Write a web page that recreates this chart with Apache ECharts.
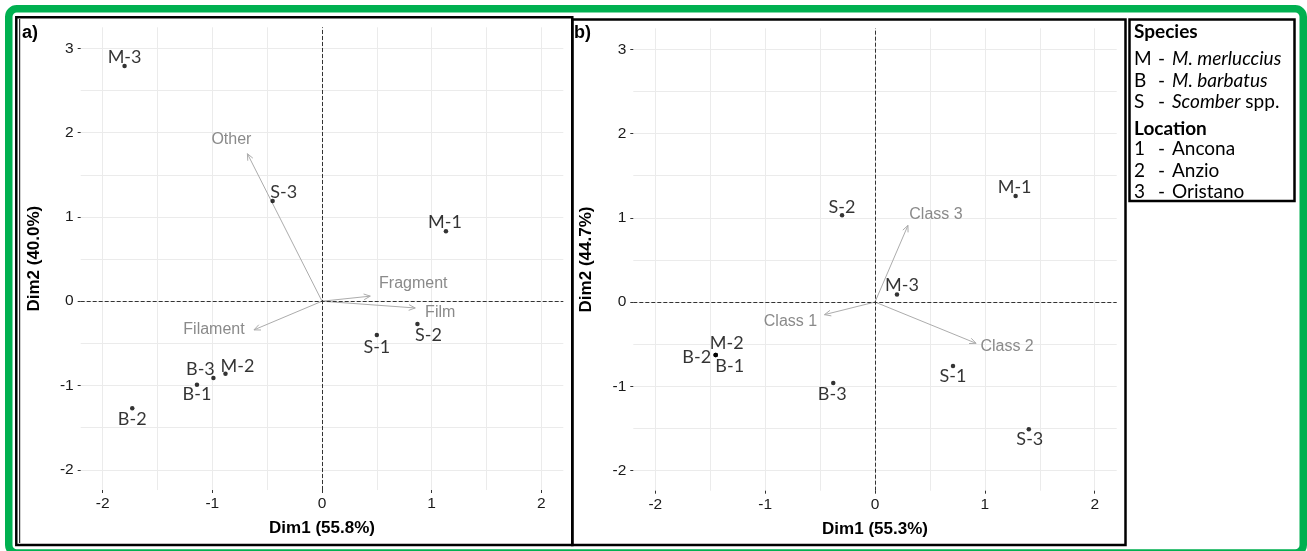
<!DOCTYPE html>
<html><head><meta charset="utf-8">
<script src="https://cdn.jsdelivr.net/npm/echarts@6/dist/echarts.min.js"></script>
<style>html,body{margin:0;padding:0;background:#fff}#c{width:1307px;height:551px}</style>
</head><body><div id="c"></div>
<script>
// ---------------- data ----------------
const sampleNames = ['M-1','M-2','M-3','B-1','B-2','B-3','S-1','S-2','S-3'];
// panel a) individuals
const dim1A = [1.13,-0.88,-1.80,-1.14,-1.73,-0.99,0.50,0.87,-0.45];
const dim2A = [0.83,-0.86,2.79,-0.99,-1.27,-0.91,-0.40,-0.27,1.19];
// panel b) individuals
const dim1B = [1.28,-1.45,0.20,-1.45,-1.45,-0.38,0.71,-0.30,1.40];
const dim2B = [1.26,-0.63,0.09,-0.63,-0.63,-0.96,-0.76,1.03,-1.51];
// panel a) variables
const varNamesA = ['Other','Fragment','Film','Filament'];
const varDim1A = [-0.68,0.44,0.85,-0.62];
const varDim2A = [1.75,0.06,-0.08,-0.34];
// panel b) variables
const varNamesB = ['Class 3','Class 1','Class 2'];
const varDim1B = [0.30,-0.46,0.92];
const varDim2B = [0.91,-0.15,-0.49];
// axes
const dim1TickLabels = [-2,-1,0,1,2];
const dim2TickLabels = [-2,-1,0,1,2,3];
const dim1GridLines = [-2,-1.5,-1,-0.5,0,0.5,1,1.5,2];
const dim2GridLines = [-2,-1.5,-1,-0.5,0,0.5,1,1.5,2,2.5,3];
const dim1Range = [-2.2, 2.2];
const dim2Range = [-2.24, 3.25];
const xTitles = ['Dim1 (55.8%)','Dim1 (55.3%)'];
const yTitles = ['Dim2 (40.0%)','Dim2 (44.7%)'];
const panelTags = ['a)','b)'];
const legendSpecies = [['M','M. merluccius',''],['B','M. barbatus',''],['S','Scomber',' spp.']];
const legendLocation = [['1','Ancona'],['2','Anzio'],['3','Oristano']];

// ---------------- presentation ----------------
const ptLabelOff = [
  {'M-3':[0,-9],'S-3':[11,-9],'M-1':[-1,-9],'S-1':[0,12],'S-2':[11,11],'B-3':[-13,-9],'M-2':[12,-8],'B-1':[0,10],'B-2':[0,11]},
  {'S-2':[0,-8],'M-1':[-1,-9],'M-3':[5,-9],'S-1':[0,10],'S-3':[1,10],'M-2':[11,-12],'B-2':[-19,2],'B-1':[14,11],'B-3':[-1,11]}
];
const varLabelOff = [
  {'Other':[-16,-14],'Fragment':[43,-13],'Film':[25,5],'Filament':[-40,0]},
  {'Class 3':[28,-11],'Class 1':[-34,7],'Class 2':[31,3]}
];
const grids = [
  {left:80.7, top:27.3, width:482.6, height:462.7},
  {left:633.3, top:28.3, width:483.4, height:462.4}
];
const TXT = '#1a1a1a';
const LAB_FONT = 'Lato';
const AX_FONT = '"Liberation Sans", Arial, sans-serif';

const panels = [
  {d1:dim1A, d2:dim2A, vn:varNamesA, v1:varDim1A, v2:varDim2A},
  {d1:dim1B, d2:dim2B, vn:varNamesB, v1:varDim1B, v2:varDim2B}
];

const xAxis = [], yAxis = [], series = [];
panels.forEach((p, gi) => {
  xAxis.push({type:'value', gridIndex:gi, min:dim1Range[0], max:dim1Range[1], position:'bottom',
    axisLine:{show:false, onZero:false}, axisTick:{show:false, customValues:dim1GridLines},
    axisLabel:{show:false}, splitLine:{show:true, lineStyle:{color:'#ebebeb', width:1}}});
  yAxis.push({type:'value', gridIndex:gi, min:dim2Range[0], max:dim2Range[1], position:'left',
    axisLine:{show:false, onZero:false}, axisTick:{show:false, customValues:dim2GridLines},
    axisLabel:{show:false}, splitLine:{show:true, lineStyle:{color:'#ebebeb', width:1}}});
  xAxis.push({type:'value', gridIndex:gi, min:dim1Range[0], max:dim1Range[1], position:'bottom',
    axisLine:{show:false, onZero:false},
    axisTick:{show:true, customValues:dim1TickLabels, length:3, lineStyle:{color:'#333', width:1}},
    axisLabel:{customValues:dim1TickLabels, color:TXT, fontSize:15.5, fontFamily:AX_FONT, margin:6},
    splitLine:{show:false},
    name:xTitles[gi], nameLocation:'middle', nameGap:30,
    nameTextStyle:{color:'#000', fontSize:17, fontWeight:'bold', fontFamily:AX_FONT}});
  yAxis.push({type:'value', gridIndex:gi, min:dim2Range[0], max:dim2Range[1], position:'left',
    axisLine:{show:false, onZero:false},
    axisTick:{show:true, customValues:dim2TickLabels, length:3, lineStyle:{color:'#333', width:1}},
    axisLabel:{customValues:dim2TickLabels, color:TXT, fontSize:15.5, fontFamily:AX_FONT, margin:7},
    splitLine:{show:false},
    name:yTitles[gi], nameLocation:'middle', nameGap:38, nameRotate:90,
    nameTextStyle:{color:'#000', fontSize:17, fontWeight:'bold', fontFamily:AX_FONT}});

  const xi = gi*2, yi = gi*2;
  const vOff = varLabelOff[gi];
  series.push({
    type:'custom', coordinateSystem:'cartesian2d', xAxisIndex:xi, yAxisIndex:yi, z:3,
    data: p.v1.map((v,i)=>[v, p.v2[i]]),
    renderItem(params, api){
      const o = api.coord([0,0]);
      const t = api.coord([api.value(0), api.value(1)]);
      const ang = Math.atan2(t[1]-o[1], t[0]-o[0]);
      const L = 7, a = Math.PI/7.5;
      const h1 = [t[0]-L*Math.cos(ang-a), t[1]-L*Math.sin(ang-a)];
      const h2 = [t[0]-L*Math.cos(ang+a), t[1]-L*Math.sin(ang+a)];
      const name = p.vn[params.dataIndex];
      const off = vOff[name];
      return {type:'group', children:[
        {type:'line', shape:{x1:o[0],y1:o[1],x2:t[0],y2:t[1]}, style:{stroke:'#acacac', lineWidth:1}},
        {type:'polyline', shape:{points:[h1,t,h2]}, style:{stroke:'#acacac', fill:null, lineWidth:1}},
        {type:'text', x:t[0]+off[0], y:t[1]+off[1],
          style:{text:name, fill:'#8a8a8a', font:'16px "Liberation Sans", Arial, sans-serif', align:'center', verticalAlign:'middle'}}
      ]};
    },
    markLine:{silent:true, symbol:['none','none'], label:{show:false},
      lineStyle:{type:[4,2], color:'#333', width:1},
      data:[{xAxis:0},{yAxis:0}]}
  });
  const pOff = ptLabelOff[gi];
  series.push({
    type:'scatter', xAxisIndex:xi, yAxisIndex:yi, z:4,
    symbol:'circle', symbolSize:4.5, itemStyle:{color:'#000'},
    data: sampleNames.map((n,i)=>({name:n, value:[p.d1[i], p.d2[i]],
      label:{offset:pOff[n]}})),
    label:{show:true, position:'inside', formatter:'{b}', color:'#000',
      fontSize:18, fontFamily:LAB_FONT},
    emphasis:{disabled:true}
  });
});

const LF = 19;
const graphic = [
  {type:'rect', shape:{x:8.75, y:8.75, width:1294.5, height:544.25, r:8}, style:{fill:null, stroke:'#00b050', lineWidth:7.5}},
  {type:'rect', shape:{x:16.3, y:17.3, width:556, height:527.7}, style:{fill:null, stroke:'#000', lineWidth:2.5}},
  {type:'line', shape:{x1:19.7, y1:19, x2:19.7, y2:543}, style:{stroke:'#000', lineWidth:1}},
  {type:'rect', shape:{x:572.3, y:19.5, width:553.2, height:525.5}, style:{fill:null, stroke:'#000', lineWidth:2.5}},
  {type:'rect', shape:{x:1129.5, y:19.5, width:165, height:181.5}, style:{fill:null, stroke:'#000', lineWidth:2.5}},
  {type:'text', x:22, y:33, style:{text:panelTags[0], font:'bold 18px "Liberation Sans", Arial, sans-serif', fill:'#000', verticalAlign:'middle'}},
  {type:'text', x:574, y:33, style:{text:panelTags[1], font:'bold 18px "Liberation Sans", Arial, sans-serif', fill:'#000', verticalAlign:'middle'}},
  {type:'text', x:1134, y:32, style:{text:'Species', font:'bold '+LF+'px Lato', fill:'#000', verticalAlign:'middle'}},
  {type:'text', x:1134, y:129, style:{text:'Location', font:'bold '+LF+'px Lato', fill:'#000', verticalAlign:'middle'}}
];
const spRows = [59, 80.5, 102];
legendSpecies.forEach((r,i)=>{
  graphic.push({type:'text', x:1134, y:spRows[i], style:{text:r[0], font:LF+'px Lato', fill:'#000', verticalAlign:'middle'}});
  graphic.push({type:'text', x:1158, y:spRows[i], style:{text:'-', font:LF+'px Lato', fill:'#000', verticalAlign:'middle'}});
  graphic.push({type:'text', x:1172, y:spRows[i], style:{
    text:'{i|'+r[1]+'}{n|'+r[2]+'}', verticalAlign:'middle', fill:'#000',
    rich:{i:{font:'italic '+LF+'px Lato', fill:'#000'}, n:{font:LF+'px Lato', fill:'#000'}}}});
});
const locRows = [149, 170.5, 192];
legendLocation.forEach((r,i)=>{
  graphic.push({type:'text', x:1134, y:locRows[i], style:{text:r[0], font:LF+'px Lato', fill:'#000', verticalAlign:'middle'}});
  graphic.push({type:'text', x:1158, y:locRows[i], style:{text:'-', font:LF+'px Lato', fill:'#000', verticalAlign:'middle'}});
  graphic.push({type:'text', x:1172, y:locRows[i], style:{text:r[1], font:LF+'px Lato', fill:'#000', verticalAlign:'middle'}});
});

const chart = echarts.init(document.getElementById('c'), null, {renderer:'canvas'});
chart.setOption({
  animation:false,
  backgroundColor:'#fff',
  grid: grids.map(g=>Object.assign({containLabel:false}, g)),
  xAxis, yAxis, series, graphic
});
</script>
</body></html>
